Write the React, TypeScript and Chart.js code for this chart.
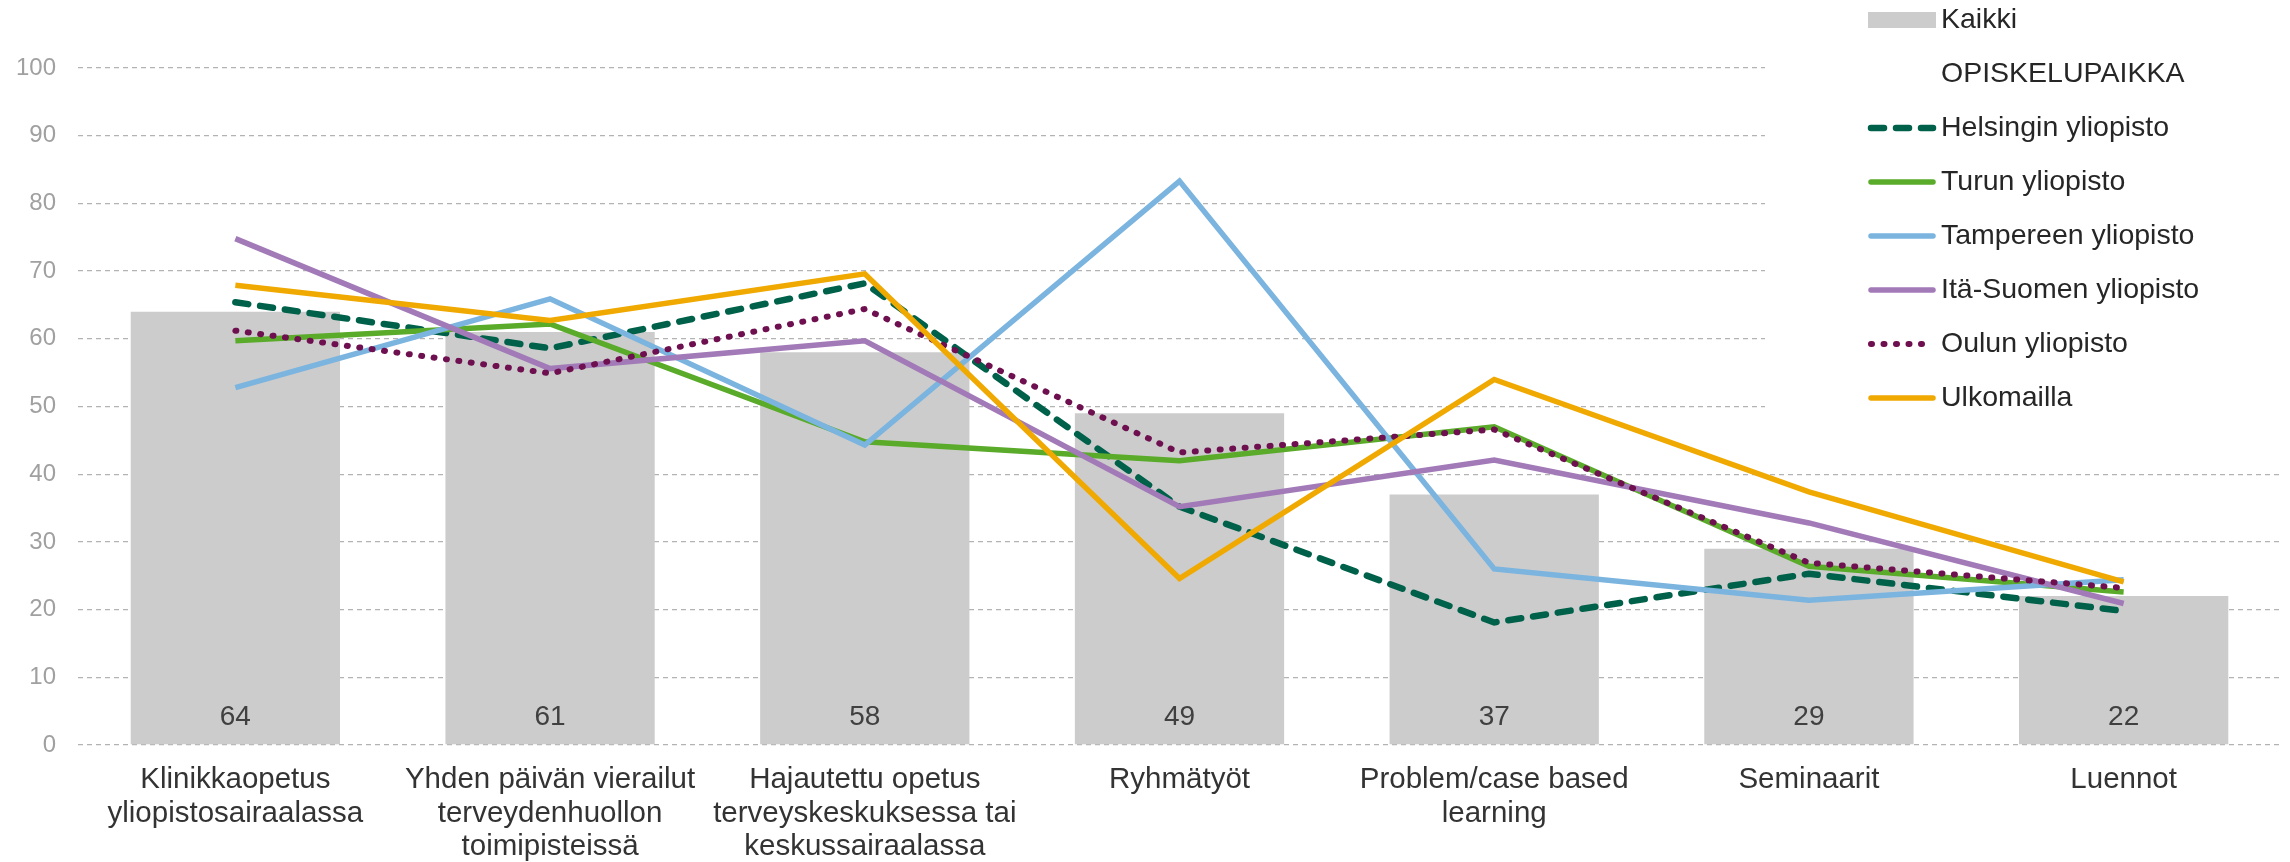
import React, { useEffect, useRef } from "react";
import { Chart, registerables } from "chart.js";

Chart.register(...registerables);

const categories: (string | string[])[] = [
  ["Klinikkaopetus", "yliopistosairaalassa"],
  ["Yhden päivän vierailut", "terveydenhuollon", "toimipisteissä"],
  ["Hajautettu opetus", "terveyskeskuksessa tai", "keskussairaalassa"],
  "Ryhmätyöt",
  ["Problem/case based", "learning"],
  "Seminaarit",
  "Luennot",
];

const kaikki = [64, 61, 58, 49, 37, 29, 22];
const helsinki = [65.4, 58.6, 68.2, 35.2, 18.1, 25.3, 19.8];
const turku = [59.7, 62.2, 44.8, 42.0, 47.0, 26.4, 22.6];
const tampere = [52.8, 65.9, 44.3, 83.3, 26.0, 21.4, 24.4];
const itaSuomi = [74.8, 55.6, 59.7, 35.2, 42.1, 32.8, 20.9];
const oulu = [61.2, 54.9, 64.4, 43.2, 46.6, 26.9, 23.2];
const ulkomailla = [67.9, 62.7, 69.6, 24.6, 54.0, 37.4, 24.1];

const legendHeader = "OPISKELUPAIKKA";
const yTicks = [0, 10, 20, 30, 40, 50, 60, 70, 80, 90, 100];

const FONT = "'Liberation Sans', Arial, sans-serif";

export default function App() {
  const ref = useRef<HTMLCanvasElement>(null);
  useEffect(() => {
    document.body.style.margin = "0";
    const canvas = ref.current!;
    const lineDs = (
      label: string,
      data: number[],
      color: string,
      order: number,
      width: number,
      dash: number[] = []
    ) => ({
      type: "line" as const,
      label,
      data,
      borderColor: color,
      backgroundColor: color,
      borderWidth: width,
      borderDash: dash,
      borderCapStyle: dash.length ? ("round" as const) : ("butt" as const),
      borderJoinStyle: "miter" as const,
      pointRadius: 0,
      tension: 0,
      fill: false,
      order,
    });

    const barLabels = {
      id: "barLabels",
      afterDatasetsDraw(chart: any) {
        const ctx = chart.ctx;
        const meta = chart.getDatasetMeta(0);
        const yb = chart.scales.y.getPixelForValue(0);
        ctx.save();
        ctx.font = `28px ${FONT}`;
        ctx.fillStyle = "#404040";
        ctx.textAlign = "center";
        ctx.textBaseline = "middle";
        meta.data.forEach((el: any, i: number) => {
          ctx.fillText(String(kaikki[i]), el.x, yb - 28);
        });
        ctx.restore();
      },
    };

    const customLegend = {
      id: "customLegend",
      afterDraw(chart: any) {
        const ctx = chart.ctx;
        ctx.save();
        ctx.fillStyle = "#ffffff";
        ctx.fillRect(1765, 0, chart.width - 1765, 432);
        const x0 = 1868;
        const x1 = 1936;
        const tx = 1941;
        const step = 54;
        let y = 20;
        ctx.font = `28.5px ${FONT}`;
        ctx.textBaseline = "middle";
        ctx.textAlign = "left";
        const ds = chart.data.datasets;
        ctx.fillStyle = "#cccccc";
        ctx.fillRect(x0, y - 8, x1 - x0, 16);
        ctx.fillStyle = "#262626";
        ctx.fillText(ds[0].label, tx, y);
        y += step;
        ctx.fillText(legendHeader, tx, y);
        y += step;
        for (let i = 1; i < ds.length; i++) {
          const d = ds[i];
          ctx.beginPath();
          ctx.strokeStyle = d.borderColor;
          ctx.lineWidth = d.borderWidth;
          ctx.setLineDash(d.borderDash || []);
          ctx.lineCap = "round";
          ctx.moveTo(x0 + 3, y);
          ctx.lineTo(x1 - 3, y);
          ctx.stroke();
          ctx.setLineDash([]);
          ctx.fillStyle = "#262626";
          ctx.fillText(d.label, tx, y);
          y += step;
        }
        ctx.restore();
      },
    };

    const chart = new Chart(canvas, {
      data: {
        labels: categories,
        datasets: [
          {
            type: "bar",
            label: "Kaikki",
            data: kaikki,
            backgroundColor: "#cccccc",
            barPercentage: 0.665,
            categoryPercentage: 1,
            order: 20,
          } as any,
          lineDs("Helsingin yliopisto", helsinki, "#00614b", 6, 6.5, [13, 12]),
          lineDs("Turun yliopisto", turku, "#5aab2a", 5, 5.5),
          lineDs("Tampereen yliopisto", tampere, "#7ab4df", 4, 5.5),
          lineDs("Itä-Suomen yliopisto", itaSuomi, "#a27ab7", 3, 5.5),
          lineDs("Oulun yliopisto", oulu, "#6e0f50", 2, 6, [1, 11.5]),
          lineDs("Ulkomailla", ulkomailla, "#f0a900", 1, 5.5),
        ],
      },
      options: {
        responsive: false,
        animation: false,
        layout: { padding: { top: 68, left: 0, right: 9, bottom: 0 } },
        plugins: {
          legend: { display: false },
          tooltip: { enabled: false },
        },
        scales: {
          x: {
            type: "category",
            offset: true,
            grid: { display: false, drawTicks: false },
            border: { display: false },
            ticks: {
              autoSkip: false,
              maxRotation: 0,
              minRotation: 0,
              padding: 18,
              color: "#333333",
              font: { family: FONT, size: 29.5, lineHeight: 1.14 },
            },
            afterFit(scale: any) {
              scale.height = 117;
            },
          },
          y: {
            min: 0,
            max: 100,
            afterBuildTicks(scale: any) {
              scale.ticks = yTicks.map((v) => ({ value: v }));
            },
            grid: { color: "#b3b3b3", lineWidth: 1.3, drawTicks: false },
            border: { display: false, dash: [5, 4] },
            ticks: {
              padding: 22,
              color: "#a0a0a0",
              font: { family: FONT, size: 24 },
            },
            afterFit(scale: any) {
              scale.width = 78;
            },
          },
        },
      },
      plugins: [barLabels, customLegend],
    } as any);
    return () => chart.destroy();
  }, []);
  return <canvas ref={ref} width={2290} height={862} style={{ display: "block" }} />;
}
